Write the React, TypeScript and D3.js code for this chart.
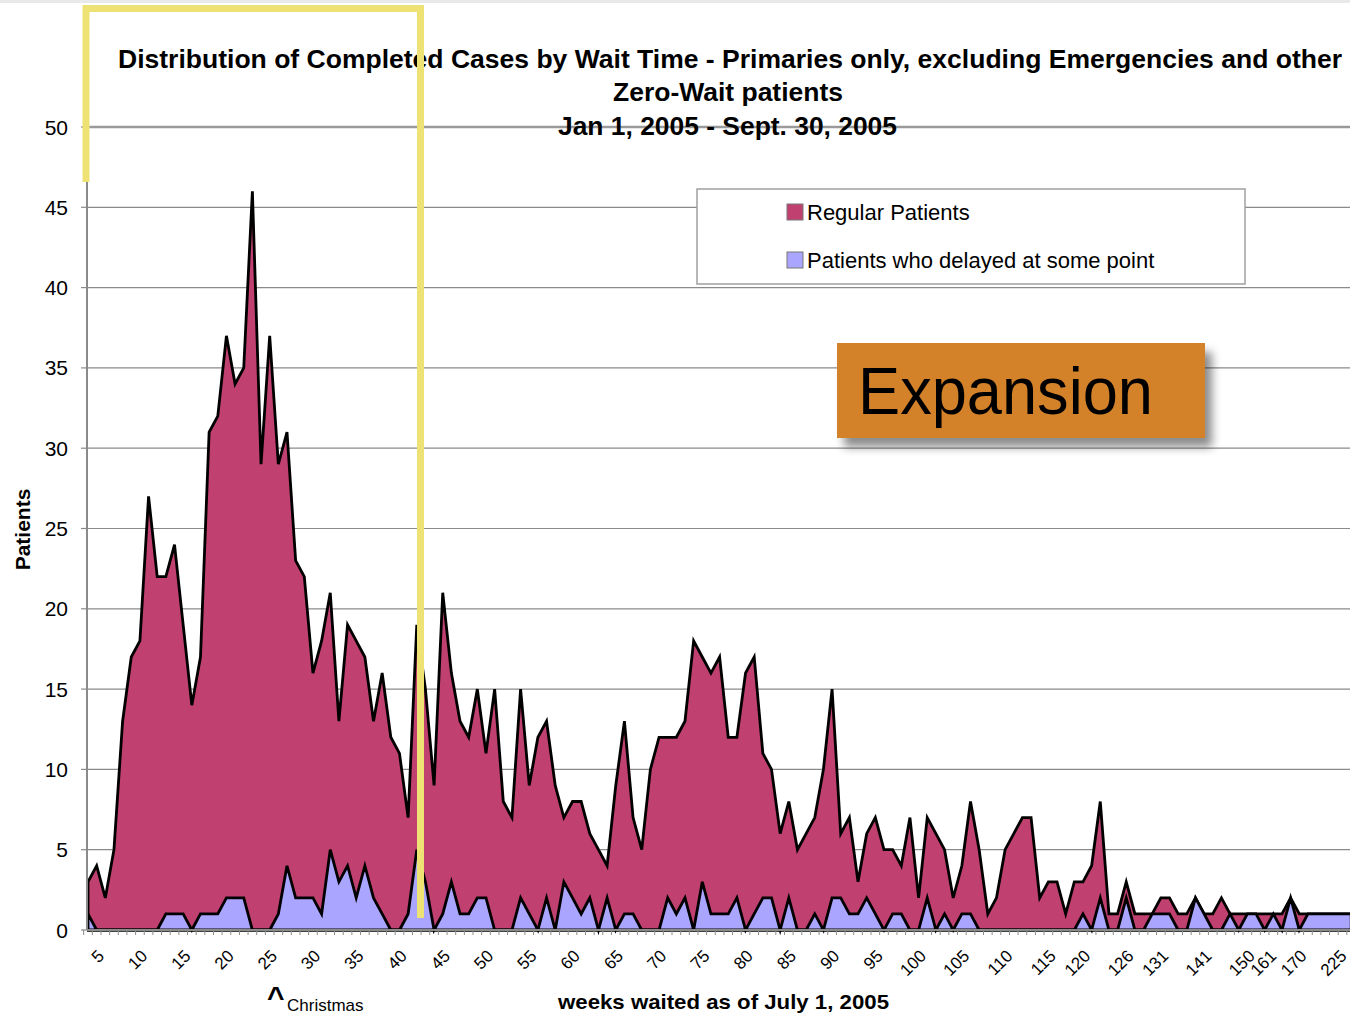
import React from "react";
import * as d3 from "d3";

// Regular patients (total completed cases) per category (week waited)
const regular: number[] = [
  3, 4, 2, 5, 13, 17, 18, 27, 22, 22,
  24, 19, 14, 17, 31, 32, 37, 34, 35, 46,
  29, 37, 29, 31, 23, 22, 16, 18, 21, 13,
  19, 18, 17, 13, 16, 12, 11, 7, 19, 15,
  9, 21, 16, 13, 12, 15, 11, 15, 8, 7,
  15, 9, 12, 13, 9, 7, 8, 8, 6, 5,
  4, 9, 13, 7, 5, 10, 12, 12, 12, 13,
  18, 17, 16, 17, 12, 12, 16, 17, 11, 10,
  6, 8, 5, 6, 7, 10, 15, 6, 7, 3,
  6, 7, 5, 5, 4, 7, 2, 7, 6, 5,
  2, 4, 8, 5, 1, 2, 5, 6, 7, 7,
  2, 3, 3, 1, 3, 3, 4, 8, 1, 1,
  3, 1, 1, 1, 2, 2, 1, 1, 2, 1,
  1, 2, 1, 1, 1, 1, 1, 1, 1, 2,
  1, 1, 1, 1, 1, 1, 1,
];

// Patients who delayed at some point
const delayed: number[] = [
  1, 0, 0, 0, 0, 0, 0, 0, 0, 1,
  1, 1, 0, 1, 1, 1, 2, 2, 2, 0,
  0, 0, 1, 4, 2, 2, 2, 1, 5, 3,
  4, 2, 4, 2, 1, 0, 0, 1, 5, 3,
  0, 1, 3, 1, 1, 2, 2, 0, 0, 0,
  2, 1, 0, 2, 0, 3, 2, 1, 2, 0,
  2, 0, 1, 1, 0, 0, 0, 2, 1, 2,
  0, 3, 1, 1, 1, 2, 0, 1, 2, 2,
  0, 2, 0, 0, 1, 0, 2, 2, 1, 1,
  2, 1, 0, 1, 1, 0, 0, 2, 0, 1,
  0, 1, 1, 0, 0, 0, 0, 0, 0, 0,
  0, 0, 0, 0, 0, 1, 0, 2, 0, 0,
  2, 0, 0, 1, 1, 1, 0, 0, 2, 1,
  0, 0, 1, 0, 1, 1, 0, 1, 0, 2,
  0, 1, 1, 1, 1, 1, 1,
];

const tickLabels: string[] = [
  "5", "10", "15", "20", "25", "30", "35", "40", "45", "50",
  "55", "60", "65", "70", "75", "80", "85", "90", "95", "100",
  "105", "110", "115", "120", "126", "131", "141", "150", "161", "170", "225",
];
const tickIndex: number[] = [
  1, 6, 11, 16, 21, 26, 31, 36, 41, 46,
  51, 56, 61, 66, 71, 76, 81, 86, 91, 96,
  101, 106, 111, 115, 120, 124, 129, 134, 136.5, 140, 144.6,
];

const titleLines: string[] = [
  "Distribution of Completed Cases by Wait Time - Primaries only, excluding Emergencies and other",
  "Zero-Wait patients",
  "Jan 1, 2005 - Sept. 30, 2005",
];

const seriesNames: string[] = ["Regular Patients", "Patients who delayed at some point"];
const colors: string[] = ["#C0406F", "#AAA6FF"];

const FONT = "'Liberation Sans', Arial, Helvetica, sans-serif";

export default function App() {
  const W = 1350;
  const H = 1016;
  const step = 8.652;
  const x0 = 88;
  const x = d3
    .scaleLinear()
    .domain([0, regular.length - 1])
    .range([x0, x0 + (regular.length - 1) * step]);
  const y = d3.scaleLinear().domain([0, 50]).range([930, 127]);

  const area = d3
    .area<number>()
    .x((_, i) => x(i))
    .y0(y(0))
    .y1((d) => y(d));

  const yTicks = y.ticks(10);
  const minorTicks = d3.range(0, regular.length + 1).map((i) => i - 0.5);

  return (
    <svg
      width={W}
      height={H}
      style={{ position: "absolute", left: 0, top: 0, background: "#fff" }}
      fontFamily={FONT}
    >
      <defs>
        <clipPath id="plotClip">
          <rect x={87} y={100} width={W - 87} height={835} />
        </clipPath>
        <filter id="shadow" x="-20%" y="-20%" width="150%" height="160%">
          <feDropShadow dx={7} dy={9} stdDeviation={5} floodColor="#000" floodOpacity={0.45} />
        </filter>
      </defs>
      <rect x={0} y={0} width={W} height={H} fill="#fff" />
      <rect x={0} y={0} width={W} height={3} fill="#e9e9e9" />

      {/* gridlines */}
      {yTicks.map((t) => (
        <line
          key={"g" + t}
          x1={87}
          x2={W}
          y1={y(t)}
          y2={y(t)}
          stroke={t === 50 ? "#9a9a9a" : "#8a8a8a"}
          strokeWidth={t === 50 ? 2.5 : 1.2}
        />
      ))}

      {/* title */}
      <g fontWeight="bold" fontSize={25} fill="#000" textAnchor="middle">
        <text x={730} y={68} textLength={1224} lengthAdjust="spacingAndGlyphs">
          {titleLines[0]}
        </text>
        <text x={728} y={101} textLength={230} lengthAdjust="spacingAndGlyphs">
          {titleLines[1]}
        </text>
        <text x={727.5} y={135} textLength={339} lengthAdjust="spacingAndGlyphs">
          {titleLines[2]}
        </text>
      </g>

      {/* areas */}
      <g clipPath="url(#plotClip)">
        <path d={area(regular) || ""} fill={colors[0]} stroke="#000" strokeWidth={2.8} strokeLinejoin="miter" />
        <path d={area(delayed) || ""} fill={colors[1]} stroke="#000" strokeWidth={2.8} strokeLinejoin="miter" />
      </g>

      {/* axes */}
      <line x1={87} x2={87} y1={y(50)} y2={y(0)} stroke="#8a8a8a" strokeWidth={2} />
      <line x1={87} x2={W} y1={y(0)} y2={y(0)} stroke="#8a8a8a" strokeWidth={2} />
      {yTicks.map((t) => (
        <g key={"yt" + t}>
          <line x1={81} x2={87} y1={y(t)} y2={y(t)} stroke="#8a8a8a" strokeWidth={1.2} />
          <text x={68} y={y(t) + 7.5} fontSize={21} textAnchor="end" fill="#000">
            {t}
          </text>
        </g>
      ))}
      {minorTicks.map((m) => (
        <line key={"mt" + m} x1={x(m)} x2={x(m)} y1={y(0)} y2={y(0) + 5} stroke="#8a8a8a" strokeWidth={1} />
      ))}
      {tickLabels.map((lab, k) => {
        const px = x(tickIndex[k]) + 8.5;
        const py = 957;
        return (
          <text
            key={"xl" + lab}
            x={px}
            y={py}
            fontSize={17}
            textAnchor="end"
            transform={`rotate(-45 ${px} ${py})`}
            fill="#000"
          >
            {lab}
          </text>
        );
      })}

      {/* axis titles */}
      <text
        x={0}
        y={0}
        transform={`translate(29.5 529.5) rotate(-90)`}
        textAnchor="middle"
        fontWeight="bold"
        fontSize={21}
        fill="#000"
      >
        Patients
      </text>
      <text x={723.5} y={1009} textAnchor="middle" fontWeight="bold" fontSize={21} textLength={331} lengthAdjust="spacingAndGlyphs" fill="#000">
        weeks waited as of July 1, 2005
      </text>
      <text x={x(tickIndex[4]) + 6} y={1007} textAnchor="middle" fontWeight="bold" fontSize={30} fill="#000">
        ^
      </text>
      <text x={287} y={1011} fontSize={17} fill="#000">
        Christmas
      </text>

      {/* legend */}
      <rect x={697} y={189} width={548} height={95} fill="#fff" stroke="#a0a0a0" strokeWidth={1.5} />
      {seriesNames.map((n, k) => (
        <g key={n}>
          <rect x={787} y={204 + k * 48} width={16} height={16} fill={colors[k]} stroke="#777" strokeWidth={1} />
          <text x={807} y={220 + k * 48} fontSize={22} fill="#000">
            {n}
          </text>
        </g>
      ))}

      {/* Expansion callout */}
      <rect x={837} y={343} width={368} height={95} fill="#D3822A" filter="url(#shadow)" />
      <text x={858} y={414} fontSize={66} fill="#000" textLength={295} lengthAdjust="spacingAndGlyphs">
        Expansion
      </text>

      {/* yellow bracket overlay */}
      <path d="M86,182 L86,8.5 L420.5,8.5 L420.5,918" fill="none" stroke="#EEE274" strokeWidth={7} strokeLinejoin="miter" />
    </svg>
  );
}
